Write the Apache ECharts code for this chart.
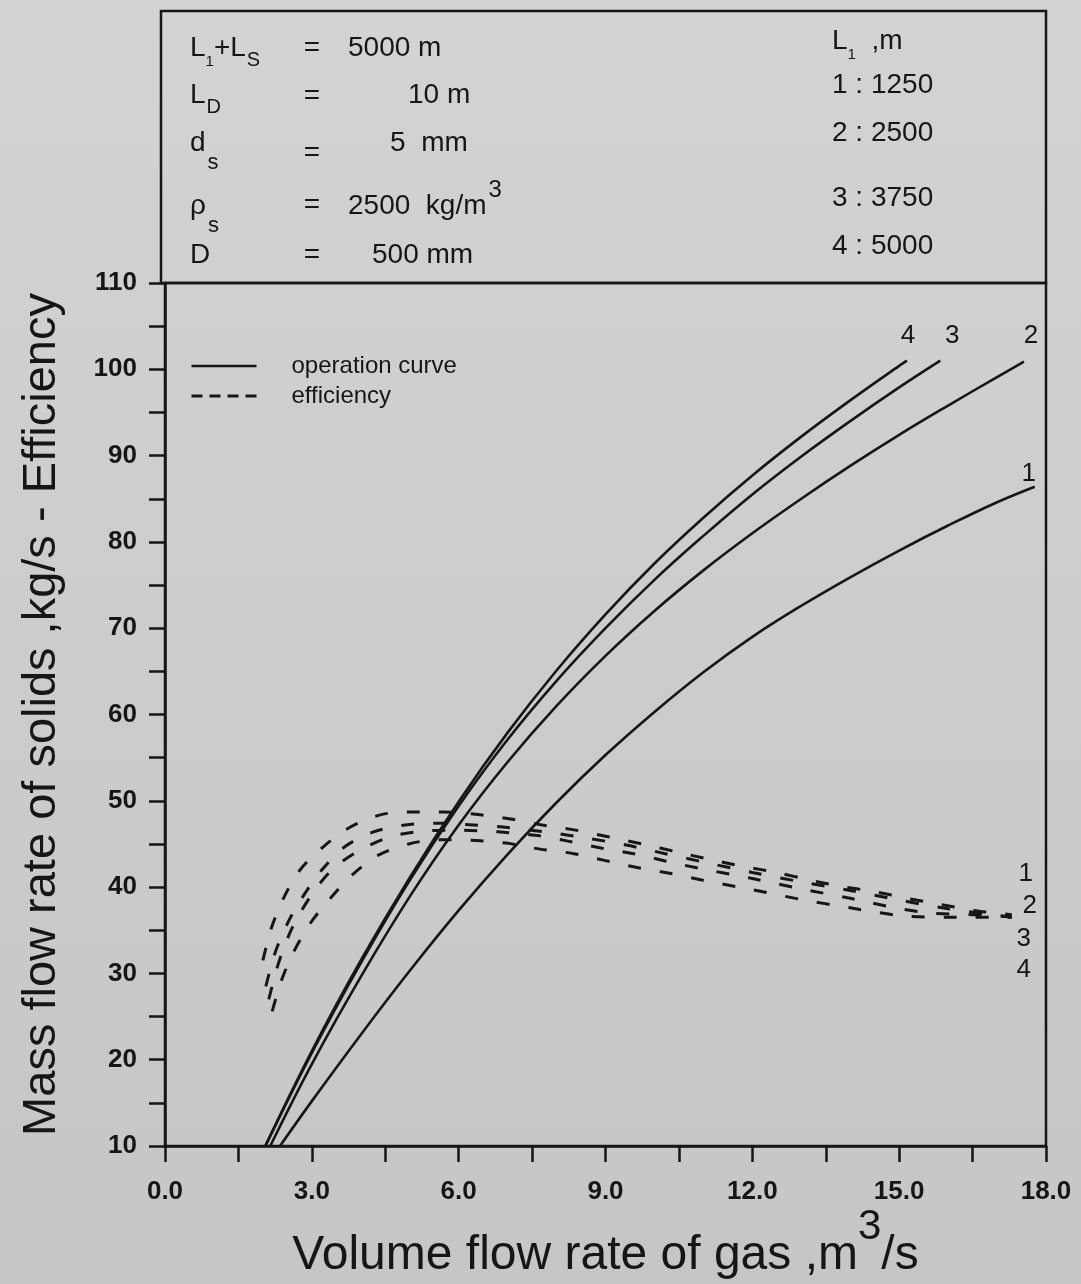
<!DOCTYPE html>
<html>
<head>
<meta charset="utf-8">
<title>Mass flow rate of solids - Efficiency</title>
<script src="https://cdn.jsdelivr.net/npm/echarts@6/dist/echarts.min.js"></script>
<style>
  html, body { margin: 0; padding: 0; }
  #chart { width: 1081px; height: 1284px; }
</style>
</head>
<body>
<div id="chart"></div>
<script>
// Operation curves: [volume flow rate of gas m3/s, mass flow rate of solids kg/s]
const operationCurve1 = [[2.35, 10], [3, 15.2], [4, 22.9], [5, 30.3], [6, 37.3], [7, 43.8], [8, 49.8], [9, 55.3], [10, 60.3], [11, 64.9], [12, 69.0], [13, 72.6], [14, 75.9], [15, 79.0], [16, 81.9], [17, 84.6], [17.77, 86.4]];
const operationCurve2 = [[2.15, 10], [3, 19.5], [4, 29.6], [5, 38.9], [6, 47.2], [7, 54.5], [8, 61.0], [9, 66.8], [10, 72.0], [11, 76.7], [12, 81.0], [13, 85.0], [14, 88.8], [15, 92.4], [16, 95.8], [17, 99.1], [17.55, 100.9]];
const operationCurve3 = [[2.05, 10], [3, 20.8], [4, 31.2], [5, 40.8], [6, 49.4], [7, 57.1], [8, 63.9], [9, 70.0], [10, 75.6], [11, 80.7], [12, 85.5], [13, 89.9], [14, 94.0], [15, 97.9], [15.84, 101.0]];
const operationCurve4 = [[2.05, 10], [3, 21.0], [4, 31.5], [5, 41.1], [6, 49.9], [7, 57.9], [8, 65.1], [9, 71.6], [10, 77.5], [11, 82.8], [12, 87.7], [13, 92.2], [14, 96.4], [15, 100.4], [15.16, 101.0]];

// Efficiency curves
const efficiencyCurve1 = [[2.0, 31.5], [2.17, 35.2], [2.42, 38.7], [2.76, 42.0], [3.24, 44.7], [3.77, 46.9], [4.42, 48.4], [5.05, 48.7], [5.7, 48.7], [6.4, 48.4], [7.06, 47.9], [7.71, 47.2], [8.39, 46.6], [9.08, 45.8], [9.83, 44.9], [10.44, 44.1], [11.13, 43.2], [11.81, 42.4], [12.49, 41.7], [13.11, 40.9], [13.79, 40.1], [14.47, 39.5], [15.16, 38.7], [15.84, 38.0], [16.52, 37.3], [17.3, 36.8]];
const efficiencyCurve2 = [[2.06, 28.5], [2.25, 32.4], [2.52, 36.0], [2.84, 39.1], [3.22, 42.1], [3.68, 44.7], [4.26, 46.4], [4.91, 47.2], [5.6, 47.4], [6.3, 47.2], [7.0, 46.9], [7.88, 46.3], [8.6, 45.7], [9.4, 44.9], [10.2, 43.9], [11.0, 42.9], [12.0, 41.7], [13.0, 40.6], [14.0, 39.6], [15.0, 38.5], [16.0, 37.5], [17.3, 36.5]];
const efficiencyCurve3 = [[2.12, 27.0], [2.32, 31.2], [2.6, 35.3], [2.97, 38.9], [3.41, 42.0], [3.99, 44.3], [4.64, 45.9], [5.3, 46.5], [6.0, 46.6], [6.8, 46.4], [7.57, 46.0], [8.26, 45.3], [8.93, 44.5], [9.55, 43.9], [10.24, 43.0], [10.89, 42.2], [12.0, 41.0], [12.9, 39.9], [14.0, 38.7], [14.92, 37.6], [15.64, 37.0], [16.5, 36.8], [17.3, 36.6]];
const efficiencyCurve4 = [[2.19, 25.6], [2.38, 29.2], [2.63, 32.5], [2.98, 35.9], [3.38, 38.7], [3.82, 41.4], [4.36, 43.7], [4.98, 45.0], [5.6, 45.5], [6.35, 45.4], [6.97, 45.1], [7.66, 44.4], [8.33, 43.9], [8.98, 43.1], [9.62, 42.3], [10.31, 41.6], [10.99, 40.8], [12.0, 39.7], [12.97, 38.6], [14.0, 37.6], [15.02, 36.7], [16.0, 36.5], [17.3, 36.5]];

const curveIds = ["1", "2", "3", "4"];
const feedLengths = [1250, 2500, 3750, 5000];

// Header parameters (rich text tokens: n = normal, a/b/c = subscripts, p = superscript)
const paramNames = ["{n|L}{a|1}{n|+L}{b|S}", "{n|L}{b|D}", "{n|d}{c|s}", "{n|ρ}{c|s}", "{n|D}"];
const paramValues = ["{n|5000 m}", "{n|10 m}", "{n|5  mm}", "{n|2500  kg/m}{p|3}", "{n|500 mm}"];

const FONT = '"Liberation Sans", Arial, sans-serif';
const INK = "#161616";

/*
  Header box above the plot
*/
const headerRich = {
  n: { fontSize: 28, fontFamily: FONT, fill: INK, lineHeight: 32, padding: [14, 0, 0, 0], verticalAlign: "top" },
  a: { fontSize: 15, fontFamily: FONT, fill: INK, lineHeight: 15, padding: [34, 0, 0, 0], verticalAlign: "top" },
  b: { fontSize: 20, fontFamily: FONT, fill: INK, lineHeight: 20, padding: [30, 0, 0, 1], verticalAlign: "top" },
  c: { fontSize: 22, fontFamily: FONT, fill: INK, lineHeight: 22, padding: [37, 0, 0, 2], verticalAlign: "top" },
  p: { fontSize: 24, fontFamily: FONT, fill: INK, lineHeight: 24, padding: [0, 0, 0, 2], verticalAlign: "top" },
};

function headerText(x, centerY, text, align) {
  return {
    type: "text",
    x: x,
    y: centerY - 30,
    silent: true,
    style: {
      text: text,
      fill: INK,
      fontSize: 28,
      fontFamily: FONT,
      align: align || "left",
      verticalAlign: "top",
      rich: headerRich,
    },
  };
}

function buildHeader() {
  const rowY = [50, 97, 145, 208, 257];
  const equalsY = [50, 98, 155, 207, 257];
  const valueX = [348, 408, 390, 348, 372];
  const lengthsY = [87, 135, 200, 248];

  const els = [
    {
      type: "rect",
      silent: true,
      shape: { x: 161, y: 11, width: 885, height: 272 },
      style: { fill: "none", stroke: INK, lineWidth: 2.5 },
    },
  ];

  paramNames.forEach((name, i) => {
    els.push(headerText(190, rowY[i], name));
    els.push(headerText(312, equalsY[i], "{n|=}", "center"));
    els.push(headerText(valueX[i], rowY[i], paramValues[i]));
  });

  els.push(headerText(832, 43, "{n|L}{a|1}{n|  ,m}"));
  curveIds.forEach((id, i) => {
    els.push(headerText(832, lengthsY[i], `{n|${id} : ${feedLengths[i]}}`));
  });

  return els;
}

/*
  Series
*/
function curveLabel(id, offset) {
  return {
    show: true,
    formatter: id,
    distance: 0,
    align: "center",
    verticalAlign: "middle",
    offset: offset,
    fontSize: 26,
    fontFamily: FONT,
    color: INK,
  };
}

function operationSeries(points, id, offset) {
  return {
    name: "operation curve",
    type: "line",
    data: points,
    smooth: 0.4,
    symbol: "none",
    itemStyle: { color: INK },
    lineStyle: { color: INK, width: 2.6 },
    endLabel: curveLabel(id, offset),
    emphasis: { disabled: true },
  };
}

function efficiencySeries(points, id, offset) {
  return {
    name: "efficiency",
    type: "line",
    data: points,
    smooth: 0.3,
    symbol: "none",
    itemStyle: { color: INK },
    lineStyle: { color: INK, width: 3, type: [13, 19] },
    endLabel: curveLabel(id, offset),
    emphasis: { disabled: true },
  };
}

const series = [
  operationSeries(operationCurve1, curveIds[0], [-6, -13]),
  operationSeries(operationCurve2, curveIds[1], [7, -26]),
  operationSeries(operationCurve3, curveIds[2], [12, -25]),
  operationSeries(operationCurve4, curveIds[3], [1, -25]),
  efficiencySeries(efficiencyCurve1, curveIds[0], [14, -41]),
  efficiencySeries(efficiencyCurve2, curveIds[1], [18, -11]),
  efficiencySeries(efficiencyCurve3, curveIds[2], [12, 22]),
  efficiencySeries(efficiencyCurve4, curveIds[3], [12, 53]),
];

const tickStyle = { color: INK, width: 2.5 };
const hiddenSymbol = { opacity: 0, color: "transparent", borderColor: "transparent", borderWidth: 0 };

const option = {
  animation: false,
  backgroundColor: {
    type: "linear", x: 0, y: 0, x2: 0, y2: 1,
    colorStops: [
      { offset: 0, color: "#d3d3d3" },
      { offset: 1, color: "#c6c6c6" },
    ],
  },
  grid: {
    left: 165,
    right: 35,
    top: 283,
    bottom: 138,
    show: true,
    borderColor: INK,
    borderWidth: 2.5,
    backgroundColor: "transparent",
    containLabel: false,
    outerBoundsMode: "none",
  },
  legend: {
    left: 190,
    top: 354,
    padding: 0,
    orient: "vertical",
    itemWidth: 65,
    itemHeight: 14,
    itemGap: 6,
    selectedMode: false,
    textStyle: { fontSize: 24, lineHeight: 24, fontFamily: FONT, color: INK, padding: [0, 0, 0, 30] },
    data: [
      { name: "operation curve", itemStyle: hiddenSymbol, lineStyle: { color: INK, width: 2.6 } },
      { name: "efficiency", itemStyle: hiddenSymbol, lineStyle: { color: INK, width: 3, type: [11, 7] } },
    ],
  },
  xAxis: {
    type: "value",
    min: 0,
    max: 18,
    interval: 3,
    name: "{t|Volume flow rate of gas ,m}{p|3}{t|/s}",
    nameLocation: "middle",
    nameGap: 60,
    nameMoveOverlap: false,
    nameTextStyle: {
      rich: {
        t: { fontSize: 48, fontFamily: FONT, color: INK, lineHeight: 50, padding: [26, 0, 0, 0], verticalAlign: "top" },
        p: { fontSize: 42, fontFamily: FONT, color: INK, lineHeight: 44, verticalAlign: "top" },
      },
    },
    axisLine: { show: true, onZero: false, lineStyle: tickStyle },
    axisTick: { show: true, inside: false, length: 16, lineStyle: tickStyle },
    minorTick: { show: true, splitNumber: 2, length: 16, lineStyle: tickStyle },
    splitLine: { show: false },
    axisLabel: {
      margin: 33,
      fontSize: 26,
      fontWeight: "bold",
      fontFamily: FONT,
      color: INK,
      showMinLabel: true,
      showMaxLabel: true,
      formatter: (v) => v.toFixed(1),
    },
  },
  yAxis: {
    type: "value",
    min: 10,
    max: 110,
    interval: 10,
    name: "Mass flow rate of solids ,kg/s - Efficiency",
    nameLocation: "middle",
    nameRotate: 90,
    nameGap: 99,
    nameMoveOverlap: false,
    nameTextStyle: { fontSize: 47, fontFamily: FONT, color: INK },
    axisLine: { show: true, onZero: false, lineStyle: tickStyle },
    axisTick: { show: true, inside: false, length: 16, lineStyle: tickStyle },
    minorTick: { show: true, splitNumber: 2, length: 16, lineStyle: tickStyle },
    splitLine: { show: false },
    axisLabel: {
      margin: 28,
      fontSize: 26,
      fontWeight: "bold",
      fontFamily: FONT,
      color: INK,
      showMinLabel: true,
      showMaxLabel: true,
    },
  },
  graphic: { elements: buildHeader() },
  series: series,
};

const chart = echarts.init(document.getElementById("chart"), null, { renderer: "canvas" });
chart.setOption(option);
</script>
</body>
</html>
